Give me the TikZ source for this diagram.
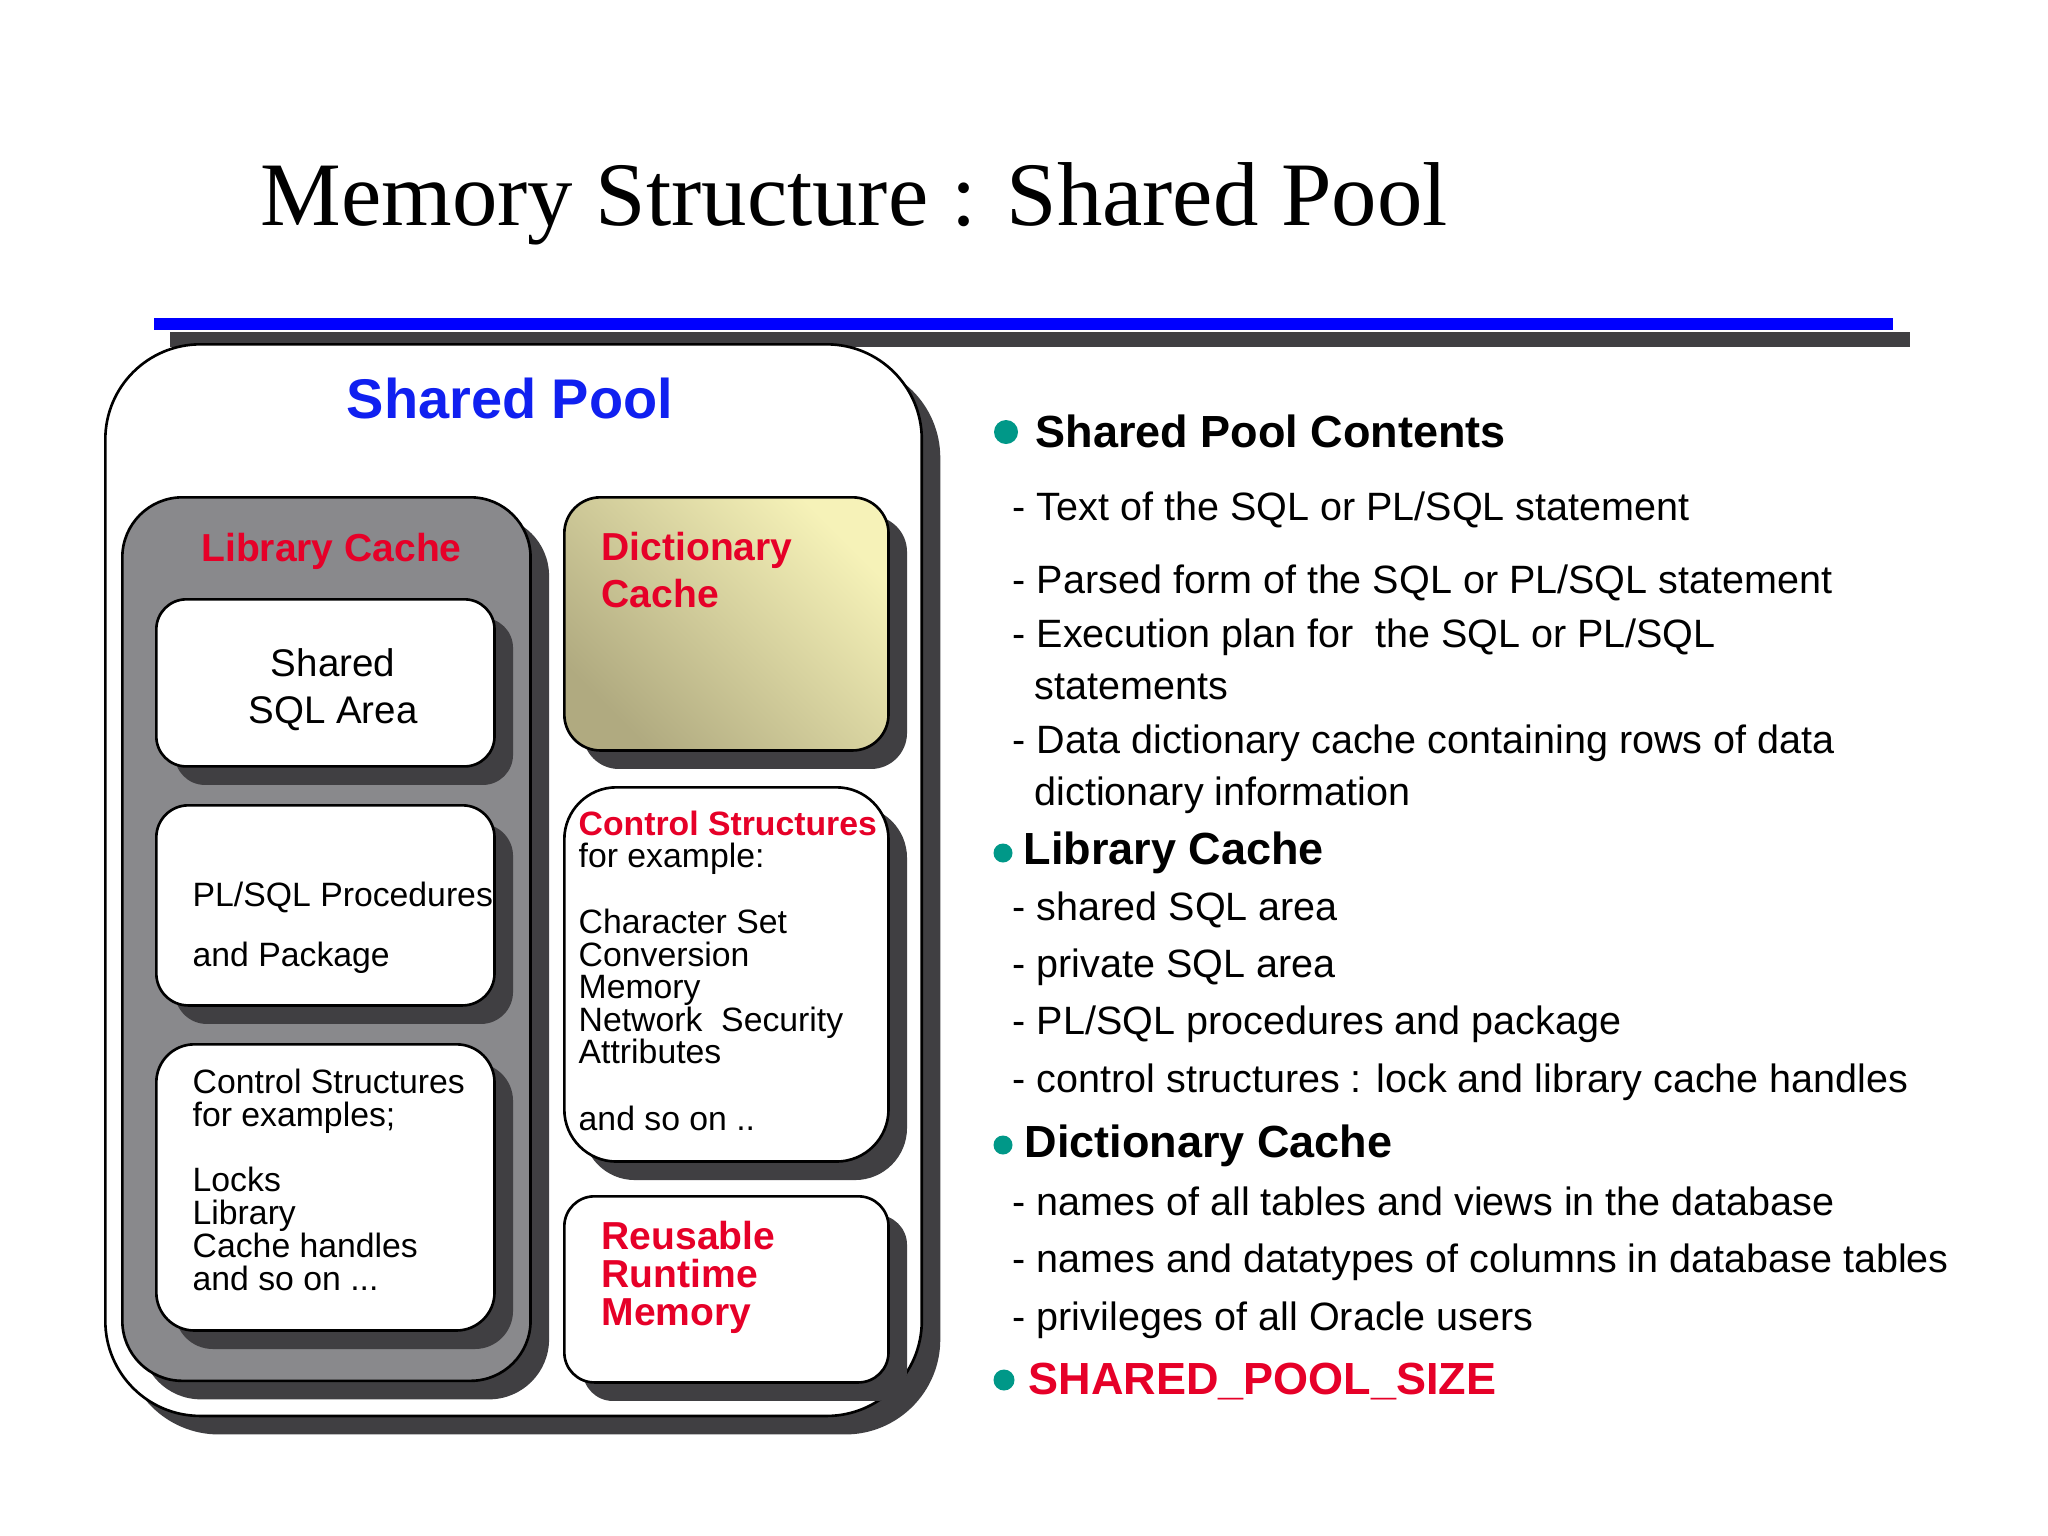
\documentclass[tikz,border=0pt]{standalone}
\usepackage{fontspec}
\setmainfont{Liberation Sans}
\newfontfamily\seriffont{Liberation Serif}
\usetikzlibrary{shadows}
\definecolor{redt}{RGB}{230,0,40}
\definecolor{bluet}{RGB}{16,32,240}
\definecolor{barblue}{RGB}{0,0,255}
\definecolor{shadowc}{RGB}{64,63,66}
\definecolor{libgray}{RGB}{137,137,140}
\definecolor{tealb}{RGB}{0,152,136}
\definecolor{dclight}{RGB}{246,242,184}
\definecolor{dcdark}{RGB}{176,170,128}
\tikzset{
  shbox/.style={draw=black, line width=0.75pt, anchor=north west, inner sep=0pt,
    general shadow={fill=shadowc, shadow xshift=1.85mm, shadow yshift=-1.85mm}},
  boxtxt/.style={anchor=base west, inner sep=0pt, font=\fontsize{9.6pt}{9.6pt}\selectfont},
  redhdr/.style={anchor=base west, inner sep=0pt, text=redt, font=\bfseries\fontsize{11.1pt}{11.1pt}\selectfont},
  redsmall/.style={anchor=base west, inner sep=0pt, text=redt, font=\bfseries\fontsize{9.6pt}{9.6pt}\selectfont},
  item/.style={anchor=base west, inner sep=0pt, font=\fontsize{11.24pt}{11.24pt}\selectfont},
  head/.style={anchor=base west, inner sep=0pt, font=\bfseries\fontsize{12.8pt}{12.8pt}\selectfont},
  dot/.style={circle, fill=tealb, inner sep=0pt, draw=none}
}
\begin{document}
\begin{tikzpicture}[x=0.01cm,y=-0.01cm]
\useasboundingbox (0,0) rectangle (2048,1536);
\fill[white] (0,0) rectangle (2048,1536);

% title and bars
\node[anchor=base west, inner sep=0pt, font=\seriffont\fontsize{25.8pt}{26pt}\selectfont] (title) at (260,225) {Memory Structure : Shared Pool};
\fill[barblue] (154,318) rectangle (1893,330);
\fill[shadowc] (170,332) rectangle (1910,347);

% outer shared pool box
\node[shbox, fill=white, minimum width=8.16cm, minimum height=10.71cm, rounded corners=9.5mm] (outer) at (104,343) {};
\node[anchor=base, inner sep=0pt, text=bluet, font=\bfseries\fontsize{15.9pt}{16pt}\selectfont] (sptitle) at (510,418) {Shared Pool};

% library cache
\node[shbox, fill=libgray, minimum width=4.08cm, minimum height=8.83cm, rounded corners=6mm] (lib) at (121,496) {};
\node[redhdr, anchor=base] (libt) at (331.5,561.7) {Library Cache};

\node[shbox, fill=white, minimum width=3.38cm, minimum height=1.67cm, rounded corners=3mm] (sql) at (155,598) {};
\node[anchor=base, inner sep=0pt, font=\fontsize{10.95pt}{11pt}\selectfont] (sqlA) at (333,676) {Shared};
\node[anchor=base, inner sep=0pt, font=\fontsize{10.95pt}{11pt}\selectfont] (sqlB) at (333,723) {SQL Area};

\node[shbox, fill=white, minimum width=3.38cm, minimum height=2.00cm, rounded corners=3.2mm] (plsql) at (155,804) {};
\node[boxtxt] (plA) at (192,906) {PL/SQL Procedures};
\node[boxtxt] (plB) at (192,966) {and Package};

\node[shbox, fill=white, minimum width=3.38cm, minimum height=2.86cm, rounded corners=3.8mm] (lctrl) at (155,1043) {};
\node[boxtxt] (lcA) at (192,1093) {Control Structures};
\node[boxtxt] (lcB) at (192,1126) {for examples;};
\node[boxtxt] (lcC) at (192,1191) {Locks};
\node[boxtxt] (lcD) at (192,1224) {Library};
\node[boxtxt] (lcE) at (192,1257) {Cache handles};
\node[boxtxt] (lcF) at (192,1290) {and so on ...};

% dictionary cache
\node[shbox, top color=dclight, bottom color=dcdark, shading angle=-45, minimum width=3.24cm, minimum height=2.53cm, rounded corners=3.6mm] (dict) at (563,496) {};
\node[redhdr] (dictA) at (601,560) {Dictionary};
\node[redhdr] (dictB) at (601,607) {Cache};

% control structures (right)
\node[shbox, fill=white, minimum width=3.24cm, minimum height=3.74cm, rounded corners=5.2mm] (rctrl) at (563,786) {};
\node[redsmall] (rcA) at (578,835) {Control Structures};
\node[boxtxt] (rcB) at (578,867) {for example:};
\node[boxtxt] (rcC) at (578,933) {Character Set};
\node[boxtxt] (rcD) at (578,966) {Conversion};
\node[boxtxt] (rcE) at (578,998) {Memory};
\node[boxtxt] (rcF) at (578,1031) {Network\ \ Security};
\node[boxtxt] (rcG) at (578,1063) {Attributes};
\node[boxtxt] (rcH) at (578,1130) {and so on ..};

% reusable runtime memory
\node[shbox, fill=white, minimum width=3.24cm, minimum height=1.86cm, rounded corners=3mm] (reuse) at (563,1195) {};
\node[redhdr] (reA) at (601,1249) {Reusable};
\node[redhdr] (reB) at (601,1287) {Runtime};
\node[redhdr] (reC) at (601,1325) {Memory};

% right-hand list
\node[dot, minimum size=0.24cm] (b1) at (1006,432) {};
\node[head] (h1) at (1035,447) {Shared Pool Contents};
\node[item] (i1) at (1012,520.4) {- Text of the SQL or PL/SQL statement};
\node[item] (i2) at (1012,593.2) {- Parsed form of the SQL or PL/SQL statement};
\node[item] (i3) at (1012,647) {- Execution plan for\ \ the SQL or PL/SQL};
\node[item] (i3b) at (1034,699) {statements};
\node[item] (i4) at (1012,753) {- Data dictionary cache containing rows of data};
\node[item] (i4b) at (1034,805) {dictionary information};

\node[dot, minimum size=0.19cm] (b2) at (1003,853) {};
\node[head] (h2) at (1023,864.7) {Library Cache};
\node[item] (i5) at (1012,920.5) {- shared SQL area};
\node[item] (i6) at (1012,977.7) {- private SQL area};
\node[item] (i7) at (1012,1034) {- PL/SQL procedures and package};
\node[item] (i8) at (1012,1092) {- control structures : lock and library cache handles};

\node[dot, minimum size=0.19cm] (b3) at (1003,1145) {};
\node[head] (h3) at (1024,1157) {Dictionary Cache};
\node[item] (i9) at (1012,1215) {- names of all tables and views in the database};
\node[item] (i10) at (1012,1272) {- names and datatypes of columns in database tables};
\node[item] (i11) at (1012,1330) {- privileges of all Oracle users};

\node[dot, minimum size=0.21cm] (b4) at (1004,1380) {};
\node[head, text=redt] (h4) at (1028,1394.6) {SHARED\_POOL\_SIZE};
\end{tikzpicture}
\end{document}
